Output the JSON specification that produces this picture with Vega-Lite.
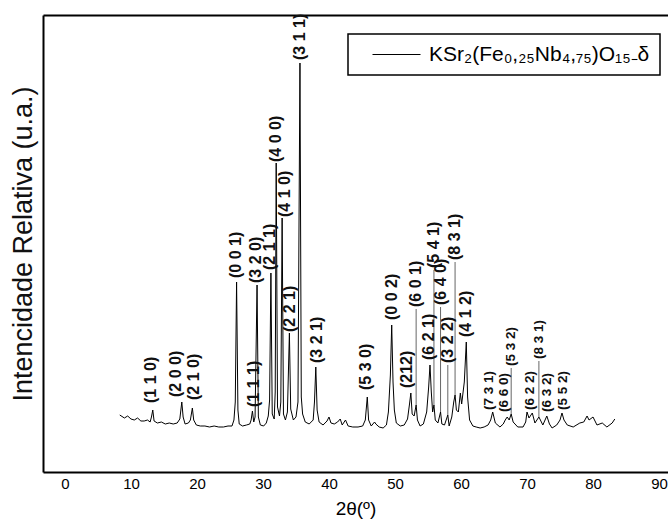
{
  "$schema": "https://vega.github.io/schema/vega-lite/v6.json",
  "width": 625,
  "height": 457,
  "autosize": {"type": "none"},
  "padding": {"left": 43, "top": 15, "right": 0, "bottom": 51},
  "config": {
    "view": {"stroke": null},
    "font": "Liberation Sans",
    "legend": {"strokeWidth": 1.5}
  },
  "datasets": {
    "pattern": [
      {"two_theta": 8.3, "intensity": 57}, {"two_theta": 9.0, "intensity": 54}, {"two_theta": 9.5, "intensity": 56},
      {"two_theta": 10.0, "intensity": 53}, {"two_theta": 10.5, "intensity": 52}, {"two_theta": 11.0, "intensity": 54},
      {"two_theta": 11.5, "intensity": 51}, {"two_theta": 12.0, "intensity": 51}, {"two_theta": 12.5, "intensity": 52},
      {"two_theta": 12.9, "intensity": 50}, {"two_theta": 13.1, "intensity": 55}, {"two_theta": 13.3, "intensity": 62},
      {"two_theta": 13.5, "intensity": 51}, {"two_theta": 14.0, "intensity": 49}, {"two_theta": 14.6, "intensity": 50},
      {"two_theta": 15.2, "intensity": 48}, {"two_theta": 15.8, "intensity": 49}, {"two_theta": 16.4, "intensity": 48},
      {"two_theta": 17.0, "intensity": 49}, {"two_theta": 17.4, "intensity": 53}, {"two_theta": 17.7, "intensity": 70},
      {"two_theta": 17.9, "intensity": 55}, {"two_theta": 18.2, "intensity": 48}, {"two_theta": 18.7, "intensity": 49},
      {"two_theta": 19.0, "intensity": 52}, {"two_theta": 19.3, "intensity": 64}, {"two_theta": 19.5, "intensity": 52},
      {"two_theta": 19.9, "intensity": 47}, {"two_theta": 20.5, "intensity": 46}, {"two_theta": 21.2, "intensity": 46},
      {"two_theta": 21.9, "intensity": 45}, {"two_theta": 22.6, "intensity": 46}, {"two_theta": 23.3, "intensity": 45},
      {"two_theta": 24.0, "intensity": 45}, {"two_theta": 24.7, "intensity": 46}, {"two_theta": 25.3, "intensity": 46},
      {"two_theta": 25.6, "intensity": 52}, {"two_theta": 25.8, "intensity": 70}, {"two_theta": 26.0, "intensity": 190},
      {"two_theta": 26.2, "intensity": 62}, {"two_theta": 26.4, "intensity": 48}, {"two_theta": 26.9, "intensity": 46},
      {"two_theta": 27.5, "intensity": 47}, {"two_theta": 28.0, "intensity": 48}, {"two_theta": 28.2, "intensity": 52},
      {"two_theta": 28.4, "intensity": 61}, {"two_theta": 28.6, "intensity": 50}, {"two_theta": 28.8, "intensity": 55},
      {"two_theta": 29.1, "intensity": 187}, {"two_theta": 29.3, "intensity": 55}, {"two_theta": 29.6, "intensity": 47},
      {"two_theta": 30.1, "intensity": 46}, {"two_theta": 30.5, "intensity": 49}, {"two_theta": 30.8, "intensity": 56},
      {"two_theta": 31.0, "intensity": 72}, {"two_theta": 31.2, "intensity": 199}, {"two_theta": 31.4, "intensity": 58},
      {"two_theta": 31.7, "intensity": 53}, {"two_theta": 31.85, "intensity": 80}, {"two_theta": 32.0, "intensity": 309},
      {"two_theta": 32.2, "intensity": 65}, {"two_theta": 32.5, "intensity": 56}, {"two_theta": 32.7, "intensity": 70},
      {"two_theta": 32.9, "intensity": 254}, {"two_theta": 33.1, "intensity": 58}, {"two_theta": 33.4, "intensity": 52},
      {"two_theta": 33.7, "intensity": 60}, {"two_theta": 34.0, "intensity": 139}, {"two_theta": 34.2, "intensity": 63},
      {"two_theta": 34.6, "intensity": 52}, {"two_theta": 35.0, "intensity": 55}, {"two_theta": 35.3, "intensity": 70},
      {"two_theta": 35.6, "intensity": 409}, {"two_theta": 35.8, "intensity": 75}, {"two_theta": 36.0, "intensity": 58},
      {"two_theta": 36.4, "intensity": 50}, {"two_theta": 37.0, "intensity": 48}, {"two_theta": 37.6, "intensity": 52},
      {"two_theta": 37.8, "intensity": 70}, {"two_theta": 38.0, "intensity": 105}, {"two_theta": 38.2, "intensity": 62},
      {"two_theta": 38.5, "intensity": 50}, {"two_theta": 39.1, "intensity": 47}, {"two_theta": 39.7, "intensity": 51},
      {"two_theta": 40.0, "intensity": 55}, {"two_theta": 40.3, "intensity": 49}, {"two_theta": 40.8, "intensity": 48},
      {"two_theta": 41.3, "intensity": 50}, {"two_theta": 41.7, "intensity": 53}, {"two_theta": 42.0, "intensity": 47},
      {"two_theta": 42.5, "intensity": 52}, {"two_theta": 42.9, "intensity": 46}, {"two_theta": 43.6, "intensity": 45},
      {"two_theta": 44.4, "intensity": 45}, {"two_theta": 45.1, "intensity": 46}, {"two_theta": 45.5, "intensity": 52},
      {"two_theta": 45.8, "intensity": 75}, {"two_theta": 46.0, "intensity": 52}, {"two_theta": 46.4, "intensity": 46},
      {"two_theta": 46.9, "intensity": 50}, {"two_theta": 47.1, "intensity": 48}, {"two_theta": 47.6, "intensity": 45},
      {"two_theta": 48.2, "intensity": 44}, {"two_theta": 48.7, "intensity": 47}, {"two_theta": 49.0, "intensity": 60},
      {"two_theta": 49.3, "intensity": 97}, {"two_theta": 49.5, "intensity": 147}, {"two_theta": 49.7, "intensity": 90},
      {"two_theta": 49.9, "intensity": 62}, {"two_theta": 50.2, "intensity": 49}, {"two_theta": 50.8, "intensity": 46},
      {"two_theta": 51.4, "intensity": 47}, {"two_theta": 51.9, "intensity": 53}, {"two_theta": 52.2, "intensity": 68},
      {"two_theta": 52.4, "intensity": 79}, {"two_theta": 52.6, "intensity": 58}, {"two_theta": 52.9, "intensity": 56},
      {"two_theta": 53.2, "intensity": 67}, {"two_theta": 53.4, "intensity": 52}, {"two_theta": 53.8, "intensity": 46},
      {"two_theta": 54.3, "intensity": 48}, {"two_theta": 54.8, "intensity": 60}, {"two_theta": 55.1, "intensity": 85},
      {"two_theta": 55.3, "intensity": 107}, {"two_theta": 55.5, "intensity": 80}, {"two_theta": 55.7, "intensity": 60},
      {"two_theta": 55.9, "intensity": 67}, {"two_theta": 56.1, "intensity": 52}, {"two_theta": 56.5, "intensity": 49},
      {"two_theta": 56.9, "intensity": 60}, {"two_theta": 57.1, "intensity": 48}, {"two_theta": 57.5, "intensity": 47},
      {"two_theta": 58.0, "intensity": 57}, {"two_theta": 58.2, "intensity": 46}, {"two_theta": 58.6, "intensity": 55},
      {"two_theta": 58.9, "intensity": 70}, {"two_theta": 59.1, "intensity": 77}, {"two_theta": 59.3, "intensity": 62},
      {"two_theta": 59.6, "intensity": 60}, {"two_theta": 59.9, "intensity": 79}, {"two_theta": 60.1, "intensity": 68},
      {"two_theta": 60.5, "intensity": 90}, {"two_theta": 60.8, "intensity": 130}, {"two_theta": 61.0, "intensity": 75},
      {"two_theta": 61.3, "intensity": 52}, {"two_theta": 61.8, "intensity": 46}, {"two_theta": 62.3, "intensity": 45},
      {"two_theta": 62.9, "intensity": 44}, {"two_theta": 63.5, "intensity": 45}, {"two_theta": 64.1, "intensity": 47},
      {"two_theta": 64.5, "intensity": 52}, {"two_theta": 64.8, "intensity": 60}, {"two_theta": 65.2, "intensity": 49},
      {"two_theta": 65.9, "intensity": 45}, {"two_theta": 66.4, "intensity": 48}, {"two_theta": 66.7, "intensity": 52},
      {"two_theta": 67.0, "intensity": 55}, {"two_theta": 67.3, "intensity": 52}, {"two_theta": 67.6, "intensity": 58},
      {"two_theta": 67.9, "intensity": 50}, {"two_theta": 68.6, "intensity": 45}, {"two_theta": 69.4, "intensity": 45},
      {"two_theta": 69.8, "intensity": 50}, {"two_theta": 70.0, "intensity": 60}, {"two_theta": 70.3, "intensity": 54},
      {"two_theta": 70.8, "intensity": 59}, {"two_theta": 71.2, "intensity": 49}, {"two_theta": 71.8, "intensity": 55},
      {"two_theta": 72.4, "intensity": 47}, {"two_theta": 73.0, "intensity": 56}, {"two_theta": 73.4, "intensity": 48},
      {"two_theta": 73.8, "intensity": 44}, {"two_theta": 74.5, "intensity": 47}, {"two_theta": 75.0, "intensity": 52},
      {"two_theta": 75.3, "intensity": 59}, {"two_theta": 75.6, "intensity": 52}, {"two_theta": 76.1, "intensity": 47},
      {"two_theta": 77.0, "intensity": 45}, {"two_theta": 78.0, "intensity": 49}, {"two_theta": 78.6, "intensity": 50},
      {"two_theta": 79.1, "intensity": 56}, {"two_theta": 79.4, "intensity": 52}, {"two_theta": 80.0, "intensity": 55},
      {"two_theta": 80.6, "intensity": 47}, {"two_theta": 81.4, "intensity": 49}, {"two_theta": 82.1, "intensity": 45},
      {"two_theta": 82.9, "intensity": 49}, {"two_theta": 83.3, "intensity": 53}
    ],
    "labels": [
      {"hkl": "(1 1 0)", "two_theta": 13.0, "y": 69},
      {"hkl": "(2 0 0)", "two_theta": 16.8, "y": 75},
      {"hkl": "(2 1 0)", "two_theta": 19.6, "y": 72},
      {"hkl": "(0 0 1)", "two_theta": 25.9, "y": 194},
      {"hkl": "(1 1 1)", "two_theta": 28.6, "y": 65},
      {"hkl": "(3 2 0)", "two_theta": 29.0, "y": 189},
      {"hkl": "(2 1 1)", "two_theta": 31.1, "y": 202},
      {"hkl": "(4 0 0)", "two_theta": 32.0, "y": 310},
      {"hkl": "(4 1 0)", "two_theta": 33.3, "y": 255},
      {"hkl": "(2 2 1)", "two_theta": 34.1, "y": 140},
      {"hkl": "(3 1 1)", "two_theta": 35.6, "y": 412},
      {"hkl": "(3 2 1)", "two_theta": 38.2, "y": 109},
      {"hkl": "(5 3 0)", "two_theta": 45.6, "y": 82},
      {"hkl": "(0 0 2)", "two_theta": 49.5, "y": 152},
      {"hkl": "(212)", "two_theta": 51.8, "y": 84},
      {"hkl": "(6 0 1)", "two_theta": 53.2, "y": 165},
      {"hkl": "(6 2 1)", "two_theta": 55.2, "y": 112},
      {"hkl": "(5 4 1)", "two_theta": 55.9, "y": 204},
      {"hkl": "(6 4 0)", "two_theta": 56.9, "y": 167},
      {"hkl": "(3 2 2)", "two_theta": 58.0, "y": 109},
      {"hkl": "(8 3 1)", "two_theta": 59.1, "y": 212},
      {"hkl": "(4 1 2)", "two_theta": 60.8, "y": 135},
      {"hkl": "(7 3 1)", "two_theta": 64.3, "y": 62},
      {"hkl": "(6 6 0)", "two_theta": 66.5, "y": 60},
      {"hkl": "(5 3 2)", "two_theta": 67.6, "y": 106},
      {"hkl": "(6 2 2)", "two_theta": 70.4, "y": 62},
      {"hkl": "(8 3 1)", "two_theta": 71.8, "y": 113},
      {"hkl": "(6 3 2)", "two_theta": 73.1, "y": 60},
      {"hkl": "(5 5 2)", "two_theta": 75.4, "y": 62}
    ],
    "leaders": [
      {"two_theta": 53.2, "peak": 67, "label": 163},
      {"two_theta": 55.9, "peak": 67, "label": 202},
      {"two_theta": 56.9, "peak": 60, "label": 165},
      {"two_theta": 58.0, "peak": 57, "label": 107},
      {"two_theta": 59.1, "peak": 77, "label": 210},
      {"two_theta": 67.6, "peak": 58, "label": 104},
      {"two_theta": 71.8, "peak": 55, "label": 111}
    ]
  },
  "resolve": {"axis": {"x": "independent"}},
  "layer": [
    {
      "data": {"name": "pattern"},
      "mark": {"type": "line", "strokeWidth": 1},
      "encoding": {
        "x": {
          "field": "two_theta", "type": "quantitative",
          "scale": {"domain": [-3.33, 91.36], "nice": false, "zero": false},
          "axis": {
            "orient": "bottom", "title": "2θ(º)", "values": [0, 10, 20, 30, 40, 50, 60, 70, 80, 90],
            "format": "d", "ticks": false, "grid": false, "domainColor": "black", "domainWidth": 2,
            "labelFont": "Liberation Sans", "labelFontSize": 15, "labelColor": "black", "labelPadding": 4,
            "labelFlush": false, "labelOverlap": false,
            "titleFont": "Liberation Sans", "titleFontSize": 19, "titleFontWeight": "normal", "titleColor": "black", "titlePadding": 8
          }
        },
        "y": {
          "field": "intensity", "type": "quantitative",
          "scale": {"domain": [0, 457], "nice": false},
          "axis": {
            "title": "Intencidade Relativa (u.a.)", "labels": false, "ticks": false, "grid": false,
            "domainColor": "black", "domainWidth": 2,
            "titleFont": "Liberation Sans", "titleFontSize": 27, "titleFontWeight": "normal", "titleColor": "#111", "titlePadding": 6
          }
        },
        "color": {
          "datum": "KSr₂(Fe₀,₂₅Nb₄,₇₅)O₁₅₋δ", "type": "nominal",
          "scale": {"range": ["black"]},
          "legend": {
            "orient": "none", "legendX": 305, "legendY": 19, "title": null, "padding": 10,
            "strokeColor": "black", "fillColor": "white",
            "symbolType": "stroke", "symbolSize": 2304, "symbolStrokeWidth": 1, "symbolOffset": 14,
            "labelFont": "Liberation Sans", "labelFontSize": 21, "labelColor": "black", "labelOffset": 8,
            "labelLimit": 400, "clipHeight": 21
          }
        }
      }
    },
    {
      "data": {"name": "leaders"},
      "mark": {"type": "rule", "color": "#666", "strokeWidth": 1},
      "encoding": {
        "x": {
          "field": "two_theta", "type": "quantitative",
          "axis": {"orient": "top", "title": null, "labels": false, "ticks": false, "grid": false, "domainColor": "black", "domainWidth": 2}
        },
        "y": {"field": "peak", "type": "quantitative"},
        "y2": {"field": "label"}
      }
    },
    {
      "data": {"name": "labels"},
      "transform": [{"filter": "datum.two_theta < 62"}],
      "mark": {"type": "text", "angle": 270, "align": "left", "baseline": "middle", "font": "Liberation Sans", "fontSize": 16, "fontWeight": "bold", "color": "#111"},
      "encoding": {
        "x": {"field": "two_theta", "type": "quantitative", "axis": null},
        "y": {"field": "y", "type": "quantitative"},
        "text": {"field": "hkl"}
      }
    },
    {
      "data": {"name": "labels"},
      "transform": [{"filter": "datum.two_theta >= 62"}],
      "mark": {"type": "text", "angle": 270, "align": "left", "baseline": "middle", "font": "Liberation Sans", "fontSize": 13.5, "fontWeight": "bold", "color": "#111"},
      "encoding": {
        "x": {"field": "two_theta", "type": "quantitative", "axis": null},
        "y": {"field": "y", "type": "quantitative"},
        "text": {"field": "hkl"}
      }
    }
  ]
}
